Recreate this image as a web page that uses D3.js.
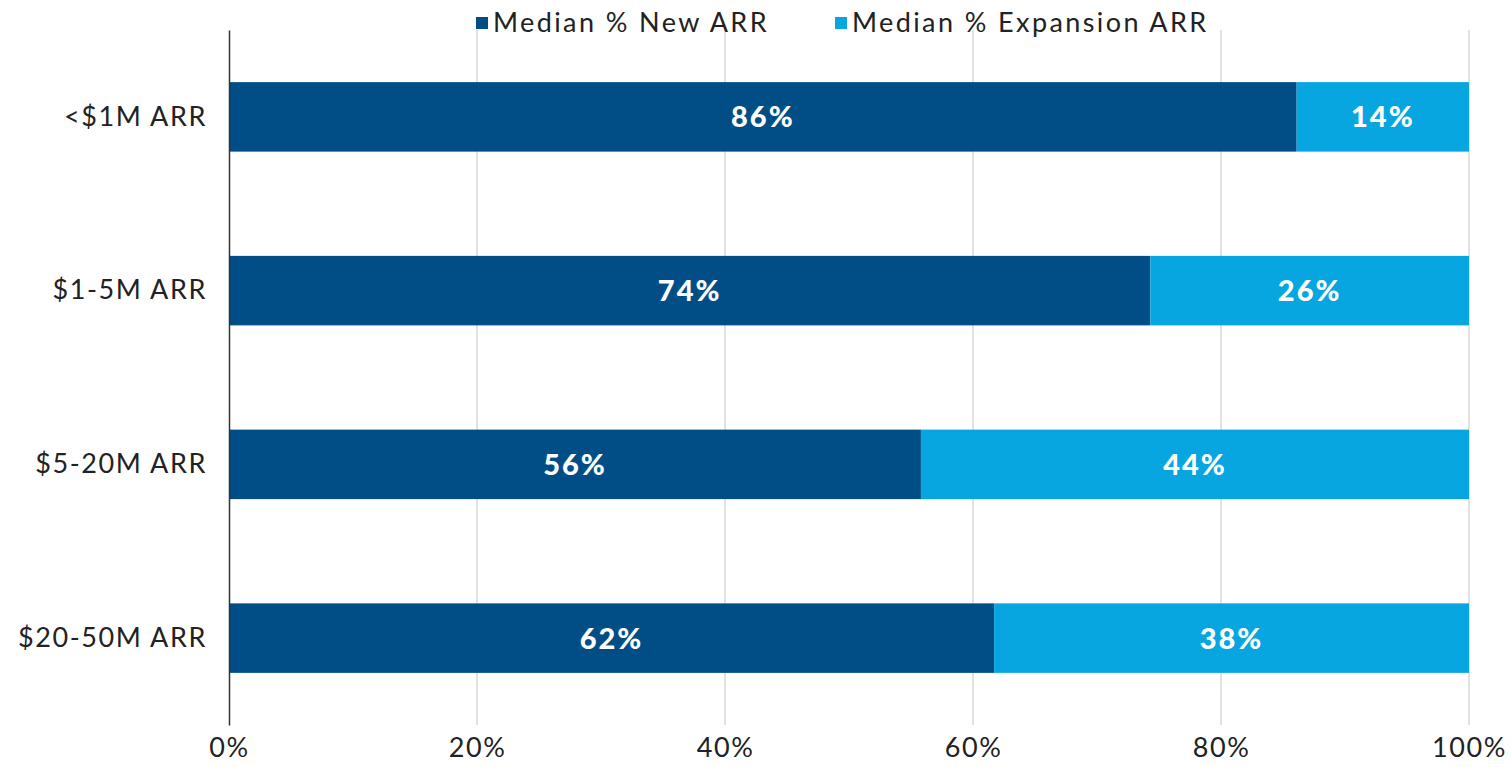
<!DOCTYPE html>
<html>
<head>
<meta charset="utf-8">
<title>New vs Expansion ARR</title>
<script src="https://d3js.org/d3.v7.min.js"></script>
<style>
body { margin: 0; background: #fff; }
svg text { font-family: Lato, "Open Sans", sans-serif; fill: #222; }
</style>
</head>
<body>
<div id="chart"></div>
<script>
// data
var categories = ["<$1M ARR", "$1-5M ARR", "$5-20M ARR", "$20-50M ARR"];
var newArr = [86.1, 74.3, 55.8, 61.7];
var expansionArr = [13.9, 25.7, 44.2, 38.3];
var seriesNames = ["Median % New ARR", "Median % Expansion ARR"];
var ticks = [0, 20, 40, 60, 80, 100];

var colors = ["#014e87", "#07a6e0"];

var W = 1511, H = 767;
var margin = {top: 30, right: 42, bottom: 42, left: 229},
    width = W - margin.left - margin.right,
    height = H - margin.top - margin.bottom;

var svg = d3.select("#chart").append("svg")
    .attr("width", W)
    .attr("height", H)
  .append("g")
    .attr("transform", "translate(" + margin.left + "," + margin.top + ")");

var x = d3.scaleLinear().domain([0, 100]).range([0, width]);
var y = d3.scaleBand().domain(categories).range([0, height])
    .paddingInner(0.6).paddingOuter(0.3);

// gridlines
svg.selectAll(".grid")
    .data(ticks.slice(1))
  .enter().append("line")
    .attr("x1", function(d) { return x(d); })
    .attr("x2", function(d) { return x(d); })
    .attr("y1", 0)
    .attr("y2", height)
    .attr("stroke", "#d9d9d9")
    .attr("stroke-width", 1.5);

// stacked bars
var rows = categories.map(function(c, i) {
  return {cat: c, a: newArr[i], b: expansionArr[i]};
});

svg.selectAll(".barA")
    .data(rows)
  .enter().append("rect")
    .attr("x", x(0))
    .attr("y", function(d) { return y(d.cat); })
    .attr("width", function(d) { return x(d.a) - x(0); })
    .attr("height", y.bandwidth())
    .attr("fill", colors[0]);

svg.selectAll(".barB")
    .data(rows)
  .enter().append("rect")
    .attr("x", function(d) { return x(d.a); })
    .attr("y", function(d) { return y(d.cat); })
    .attr("width", function(d) { return x(d.a + d.b) - x(d.a); })
    .attr("height", y.bandwidth())
    .attr("fill", colors[1]);

// value labels
function valueLabel(sel) {
  sel.attr("y", function(d) { return y(d.cat) + y.bandwidth() / 2; })
    .attr("dy", "0.36em")
    .attr("text-anchor", "middle")
    .style("font-size", "29px")
    .style("font-weight", "900")
    .style("letter-spacing", "2px")
    .style("fill", "#fff");
}

svg.selectAll(".lblA")
    .data(rows)
  .enter().append("text")
    .attr("x", function(d) { return x(d.a / 2); })
    .call(valueLabel)
    .text(function(d) { return Math.round(d.a) + "%"; });

svg.selectAll(".lblB")
    .data(rows)
  .enter().append("text")
    .attr("x", function(d) { return x(d.a + d.b / 2); })
    .call(valueLabel)
    .text(function(d) { return Math.round(d.b) + "%"; });

// axes
var yAxis = svg.append("g").call(d3.axisLeft(y).tickSize(0).tickPadding(22));
yAxis.select(".domain").attr("stroke", "#333").attr("stroke-width", 1.5);
yAxis.selectAll("text").style("font-size", "27px").style("letter-spacing", "1.6px").style("fill", "#222");

var xAxis = svg.append("g")
    .attr("transform", "translate(0," + height + ")")
    .call(d3.axisBottom(x).tickValues(ticks).tickSize(0).tickPadding(13)
      .tickFormat(function(d) { return d + "%"; }));
xAxis.select(".domain").remove();
xAxis.selectAll("text").style("font-size", "27px").style("letter-spacing", "1.6px").style("fill", "#222");

// legend
var legend = d3.select("svg").append("g");
var lx = [476, 835];
seriesNames.forEach(function(name, i) {
  legend.append("rect")
      .attr("x", lx[i]).attr("y", 17)
      .attr("width", 12).attr("height", 12)
      .attr("fill", colors[i]);
  legend.append("text")
      .attr("x", lx[i] + 17).attr("y", 22)
      .attr("dy", "0.36em")
      .style("font-size", "27px")
      .style("letter-spacing", "2.4px")
      .text(name);
});
</script>
</body>
</html>
